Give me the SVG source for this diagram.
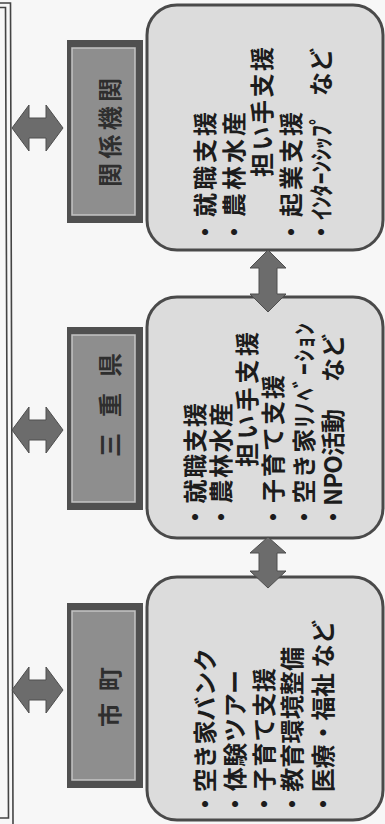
<svg xmlns="http://www.w3.org/2000/svg" width="385" height="824" viewBox="0 0 385 824">
<style>
.bg{fill:#f7f7f7}
.frame{fill:none;stroke:#444;stroke-width:1.6}
.box{fill:#dcdcdc;stroke:#4a4a4a;stroke-width:3}
.lo{fill:#505050}
.li{fill:#8e8e8e;stroke:#c4c4c4;stroke-width:1.5}
.arr{fill:#6c6c6c;stroke:#4e4e4e;stroke-width:1}
.t{font-family:"Noto Sans CJK JP","Noto Sans CJK SC",sans-serif;font-weight:700;font-size:24px;fill:#1c1c1c;dominant-baseline:central}
.lt{font-family:"Noto Sans CJK JP","Noto Sans CJK SC",sans-serif;font-weight:700;font-size:24px;fill:#2e2e2e;dominant-baseline:central}
</style>
<rect class="bg" x="0" y="0" width="385" height="824"/>
<g id="bracket">
<path class="frame" d="M0,3 H10.5 L13,824"/>
<path class="frame" d="M0,7.5 H5.5 L8.5,818 H0"/>
</g>
<g id="node-kuni">
<rect class="box" x="147" y="5" width="236" height="245" rx="30"/>
<rect class="lo" x="67" y="40" width="76" height="183"/>
<rect class="li" x="72" y="48" width="63" height="167"/>
<text class="lt" transform="translate(108,187) rotate(-90)" textLength="109">関係機関</text>
<text class="t" transform="translate(203,244) rotate(-90)" textLength="132">・就職支援</text>
<text class="t" transform="translate(232,244) rotate(-90)" textLength="132">・農林水産</text>
<text class="t" transform="translate(260,177) rotate(-90)" textLength="130">担い手支援</text>
<text class="t" transform="translate(289,244) rotate(-90)" textLength="132">・起業支援</text>
<text class="t" transform="translate(319,244) rotate(-90)" textLength="131">・ｲﾝﾀｰﾝｼｯﾌﾟ</text>
<text class="t" transform="translate(319,96) rotate(-90)">など</text>
</g>
<g id="node-mie">
<rect class="box" x="147" y="297" width="236" height="241" rx="30"/>
<rect class="lo" x="67" y="327" width="76" height="183"/>
<rect class="li" x="72" y="335" width="63" height="167"/>
<text class="lt" transform="translate(108,457) rotate(-90)" textLength="104">三重県</text>
<text class="t" transform="translate(193,529) rotate(-90)" textLength="126">・就職支援</text>
<text class="t" transform="translate(219,529) rotate(-90)" textLength="126">・農林水産</text>
<text class="t" transform="translate(245,467) rotate(-90)" textLength="135">担い手支援</text>
<text class="t" transform="translate(271,529) rotate(-90)" textLength="154">・子育て支援</text>
<text class="t" transform="translate(302,529) rotate(-90)" textLength="206">・空き家ﾘﾉﾍﾞｰｼｮﾝ</text>
<text class="t" transform="translate(331,529) rotate(-90)" textLength="120">・NPO活動</text>
<text class="t" transform="translate(331,382) rotate(-90)">など</text>
</g>
<g id="node-shicho">
<rect class="box" x="147" y="577" width="236" height="243" rx="30"/>
<rect class="lo" x="67" y="603" width="76" height="185"/>
<rect class="li" x="72" y="611" width="63" height="169"/>
<text class="lt" transform="translate(108,727) rotate(-90)" textLength="60">市町</text>
<text class="t" transform="translate(203,816) rotate(-90)" textLength="168">・空き家バンク</text>
<text class="t" transform="translate(233,816) rotate(-90)" textLength="146">・体験ツアー</text>
<text class="t" transform="translate(262,816) rotate(-90)" textLength="148">・子育て支援</text>
<text class="t" transform="translate(290,816) rotate(-90)" textLength="169">・教育環境整備</text>
<text class="t" transform="translate(321,816) rotate(-90)" textLength="196">・医療・福祉 など</text>
</g>
<g id="connectors">
<path class="arr" d="M12,128 L29,105 L29,118 L46,118 L46,105 L63,128 L46,151 L46,138 L29,138 L29,151 Z"/>
<path class="arr" d="M12,430 L29,407 L29,420 L46,420 L46,407 L63,430 L46,453 L46,440 L29,440 L29,453 Z"/>
<path class="arr" d="M12,690 L29,667 L29,680 L46,680 L46,667 L63,690 L46,713 L46,700 L29,700 L29,713 Z"/>
<path class="arr" d="M268,250 L286,268 L277,268 L277,294 L286,294 L268,312 L250,294 L259,294 L259,268 L250,268 Z"/>
<path class="arr" d="M268,537 L286,553 L277,553 L277,571 L286,571 L268,588 L250,571 L259,571 L259,553 L250,553 Z"/>
</g>
</svg>
